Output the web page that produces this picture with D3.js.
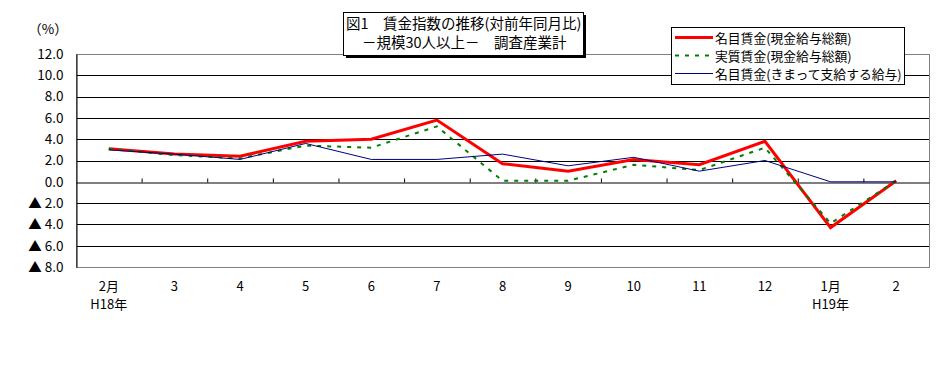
<!DOCTYPE html>
<html>
<head>
<meta charset="utf-8">
<script src="https://cdn.jsdelivr.net/npm/d3@7"></script>
<style>
  body { margin: 0; background: #ffffff; }
  svg { display: block; }
  text { font-family: "Noto Sans CJK JP", sans-serif; fill: #000; }
</style>
</head>
<body>
<div id="chart"></div>
<script>
// month labels (two rows under the axis)
var monthLabels = ["2月", "3", "4", "5", "6", "7", "8", "9", "10", "11", "12", "1月", "2"];
var yearLabels  = ["H18年", "", "", "", "", "", "", "", "", "", "", "H19年", ""];

// series values, % change from same month previous year
var nominalTotal   = [3.1, 2.6, 2.4, 3.8, 4.0, 5.8, 1.7, 1.0, 2.1, 1.6, 3.8, -4.3, 0.1];
var realTotal      = [3.1, 2.5, 2.2, 3.4, 3.2, 5.2, 0.1, 0.1, 1.6, 1.1, 3.2, -3.9, 0.1];
var nominalRegular = [3.0, 2.6, 2.1, 3.6, 2.1, 2.1, 2.6, 1.5, 2.3, 1.0, 2.0, 0.0, 0.0];

var seriesNames = ["名目賃金(現金給与総額)", "実質賃金(現金給与総額)", "名目賃金(きまって支給する給与)"];

var yTicks = [12, 10, 8, 6, 4, 2, 0, -2, -4, -6, -8];

var titleLines = ["図1　賃金指数の推移(対前年同月比)", "－規模30人以上－　調査産業計"];

var W = 936, H = 384;
var plotL = 76, plotR = 929, plotT = 54, plotB = 267;

var svg = d3.select("#chart").append("svg")
	.attr("width", W)
	.attr("height", H);

var x = d3.scaleBand()
	.domain(d3.range(monthLabels.length))
	.range([plotL, plotR]);

var y = d3.scaleLinear()
	.domain([-8, 12])
	.range([plotB, plotT]);

// gridlines
svg.append("g")
	.selectAll("line")
	.data(yTicks.filter(function(v) { return v != 0 && v != 12 && v != -8; }))
	.enter().append("line")
	.attr("x1", plotL).attr("x2", plotR)
	.attr("y1", function(d) { return Math.round(y(d)) + 0.5; })
	.attr("y2", function(d) { return Math.round(y(d)) + 0.5; })
	.style("stroke", "#000")
	.style("stroke-width", 1);

// plot border (grey)
svg.append("rect")
	.attr("x", plotL + 0.5).attr("y", plotT + 0.5)
	.attr("width", plotR - plotL).attr("height", plotB - plotT)
	.style("fill", "none")
	.style("stroke", "#808080");

// y axis
var yAxis = d3.axisLeft(y)
	.tickValues(yTicks)
	.tickSize(0)
	.tickPadding(13)
	.tickFormat(function(v) {
		if (v < 0) { return "▲ " + Math.abs(v).toFixed(1); }
		return v.toFixed(1);
	});

var gy = svg.append("g")
	.attr("transform", "translate(" + (plotL + 0.5) + ",0)")
	.call(yAxis);
gy.select(".domain").style("stroke", "#000");
gy.selectAll("text")
	.style("font-family", "'Noto Sans CJK JP', sans-serif")
	.style("font-size", "13.5px")
	.style("fill", "#000");

// zero line with ticks between categories
var bounds = d3.scaleLinear().domain([0, monthLabels.length]).range([plotL, plotR]);
var gx = svg.append("g")
	.attr("transform", "translate(0," + (Math.round(y(0)) + 0.5) + ")")
	.call(d3.axisTop(bounds)
		.tickValues(d3.range(1, monthLabels.length))
		.tickSize(4)
		.tickSizeOuter(0)
		.tickFormat(""));
gx.selectAll("line, path").style("stroke", "#000");

// category labels
var cx = function(i) { return x(i) + x.bandwidth() / 2; };

svg.append("g").selectAll("text")
	.data(monthLabels)
	.enter().append("text")
	.attr("x", function(d, i) { return cx(i); })
	.attr("y", 291)
	.attr("text-anchor", "middle")
	.style("font-size", "13px")
	.text(function(d) { return d; });

svg.append("g").selectAll("text")
	.data(yearLabels)
	.enter().append("text")
	.attr("x", function(d, i) { return cx(i); })
	.attr("y", 309)
	.attr("text-anchor", "middle")
	.style("font-size", "13px")
	.text(function(d) { return d; });

// "(%)"
svg.append("text")
	.attr("x", 48).attr("y", 34)
	.attr("text-anchor", "middle")
	.style("font-size", "13.5px")
	.text("（%）");

// series lines
var line = d3.line()
	.x(function(d, i) { return cx(i); })
	.y(function(d) { return y(d); });

var styles = [
	{ color: "#ff0000", width: 3, dash: null },
	{ color: "#008000", width: 2, dash: "4,6" },
	{ color: "#000080", width: 1, dash: null }
];
var allSeries = [nominalTotal, realTotal, nominalRegular];

svg.append("g").selectAll("path")
	.data(allSeries)
	.enter().append("path")
	.attr("d", function(d) { return line(d); })
	.style("fill", "none")
	.style("stroke", function(d, i) { return styles[i].color; })
	.style("stroke-width", function(d, i) { return styles[i].width; })
	.style("stroke-dasharray", function(d, i) { return styles[i].dash; })
	.style("stroke-linejoin", "miter");

// title box with shadow
var tb = { x: 343, y: 12, w: 240, h: 43 };
svg.append("rect")
	.attr("x", tb.x + 3).attr("y", tb.y + 3)
	.attr("width", tb.w).attr("height", tb.h)
	.style("fill", "#000");
svg.append("rect")
	.attr("x", tb.x + 0.5).attr("y", tb.y + 0.5)
	.attr("width", tb.w).attr("height", tb.h)
	.style("fill", "#fff")
	.style("stroke", "#000");
svg.append("text")
	.attr("x", tb.x + 3).attr("y", tb.y + 17)
	.style("font-size", "14.5px")
	.text(titleLines[0]);
svg.append("text")
	.attr("x", tb.x + 19).attr("y", tb.y + 36)
	.style("font-size", "14.5px")
	.text(titleLines[1]);

// legend
var lg = svg.append("g");
lg.append("rect")
	.attr("x", 671.5).attr("y", 27.5)
	.attr("width", 233).attr("height", 57)
	.style("fill", "#fff")
	.style("stroke", "#000");

var rows = lg.selectAll(".row")
	.data(seriesNames)
	.enter().append("g")
	.attr("class", "row")
	.attr("transform", function(d, i) { return "translate(0," + (37.5 + i * 18) + ")"; });

rows.append("line")
	.attr("x1", 675).attr("x2", 713)
	.attr("y1", 0).attr("y2", 0)
	.style("stroke", function(d, i) { return styles[i].color; })
	.style("stroke-width", function(d, i) { return styles[i].width; })
	.style("stroke-dasharray", function(d, i) { return styles[i].dash; });

rows.append("text")
	.attr("x", 715).attr("y", 5)
	.style("font-size", "12.8px")
	.text(function(d) { return d; });
</script>
</body>
</html>
